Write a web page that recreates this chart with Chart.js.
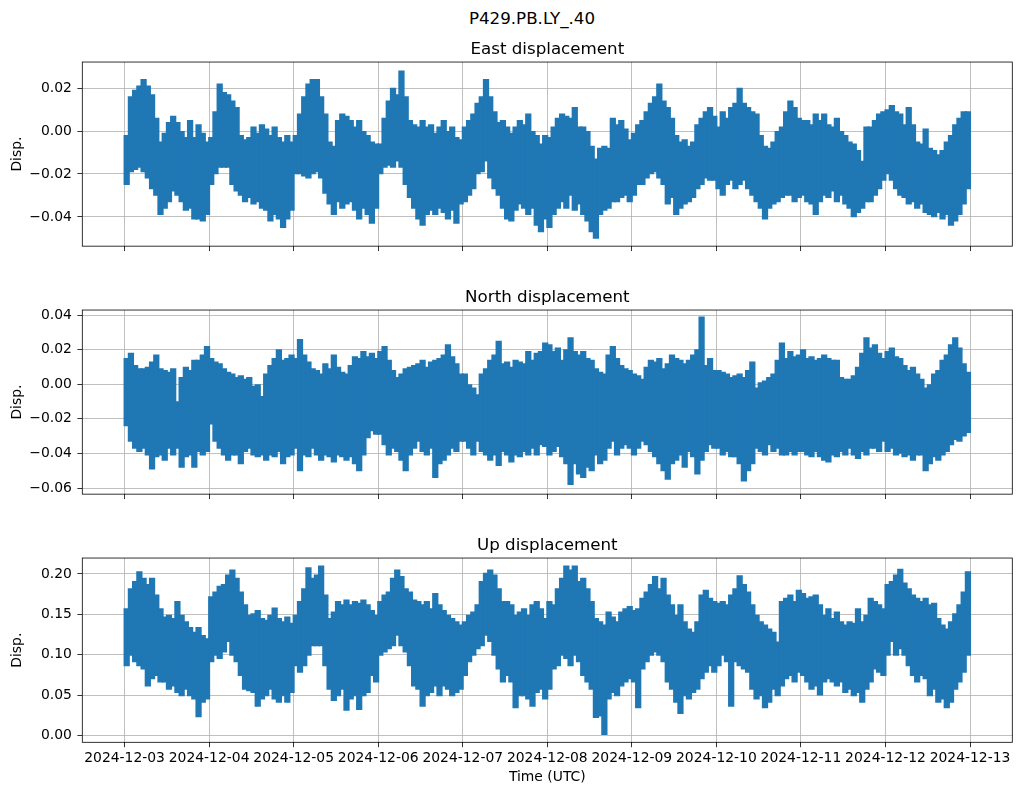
<!DOCTYPE html>
<html>
<head>
<meta charset="utf-8">
<script src="https://cdn.jsdelivr.net/npm/chart.js@4.4.1/dist/chart.umd.min.js"></script>
<style>
  body { margin: 0; background: #fff; }
  #fig { position: relative; width: 1021px; height: 795px; font-family: 'DejaVu Sans', sans-serif; }
  #sup { position: absolute; top: 8px; left: 432px; width: 200px; text-align: center; font-size: 16.7px; line-height: 20px; color: #000; }
  canvas { position: absolute; left: 0; }
</style>
</head>
<body>
<div id="fig">
  <div id="sup">P429.PB.LY_.40</div>
  <canvas id="east" width="1021" height="230" style="top:30px"></canvas>
  <canvas id="north" width="1021" height="230" style="top:278px"></canvas>
  <canvas id="up" width="1021" height="269" style="top:526px"></canvas>
</div>
<script>
// tick labels (days from 2024-12-03)
const dayLabels = ['2024-12-03', '2024-12-04', '2024-12-05', '2024-12-06', '2024-12-07', '2024-12-08',
                   '2024-12-09', '2024-12-10', '2024-12-11', '2024-12-12', '2024-12-13'];
const binDays = 0.05; // each envelope bin covers 1.2 h

// envelope (max / min) of the displacement per bin
const eastHi = [
  -0.002,0.016,0.019,0.021,0.024,0.021,0.017,0.006,-0.005,-0.001,0.004,0.007,0.004,0.000,-0.003,0.005,-0.003,0.003,-0.001,-0.005,
  -0.003,0.009,0.022,0.018,0.017,0.014,0.011,-0.002,-0.004,-0.003,0.002,-0.001,0.003,0.001,-0.002,0.002,-0.003,-0.005,-0.002,-0.005,
  -0.002,0.008,0.016,0.022,0.024,0.024,0.016,0.008,-0.005,-0.007,0.005,0.008,0.007,0.005,0.002,0.005,0.000,-0.002,-0.005,-0.006,
  -0.006,0.006,0.014,0.020,0.017,0.028,0.016,0.005,0.003,0.002,0.005,0.002,0.003,-0.001,0.002,0.005,0.000,0.002,-0.003,-0.004,
  0.002,0.005,0.008,0.013,0.016,0.024,0.016,0.009,0.004,0.005,0.002,-0.001,0.002,0.005,0.003,0.008,0.000,-0.002,-0.006,-0.002,
  -0.003,0.002,0.006,0.008,0.007,0.006,0.011,0.002,0.002,0.000,-0.007,-0.013,-0.008,-0.007,-0.008,0.006,0.003,0.005,0.001,-0.004,
  -0.001,0.003,0.005,0.009,0.013,0.016,0.022,0.014,0.011,0.006,-0.002,-0.005,-0.004,-0.007,-0.005,0.003,0.006,0.009,0.011,0.007,
  0.002,0.009,0.006,0.011,0.013,0.020,0.013,0.011,0.009,0.008,-0.002,-0.007,-0.008,-0.005,0.000,0.002,0.009,0.014,0.011,0.006,
  0.005,0.005,0.003,0.008,0.005,0.008,0.003,0.002,0.006,0.000,-0.002,-0.005,-0.006,-0.009,-0.014,0.002,0.002,0.005,0.008,0.009,
  0.010,0.012,0.009,0.008,0.003,0.011,0.003,-0.005,-0.006,0.001,-0.008,-0.009,-0.011,-0.009,-0.005,-0.002,0.003,0.006,0.009,0.009
];
const eastLo = [
  -0.025,-0.019,-0.018,-0.017,-0.019,-0.022,-0.027,-0.030,-0.039,-0.036,-0.033,-0.028,-0.030,-0.033,-0.037,-0.036,-0.041,-0.041,-0.042,-0.039,
  -0.025,-0.020,-0.017,-0.017,-0.017,-0.025,-0.028,-0.030,-0.033,-0.031,-0.034,-0.033,-0.036,-0.037,-0.042,-0.039,-0.041,-0.045,-0.041,-0.037,
  -0.020,-0.020,-0.021,-0.022,-0.020,-0.019,-0.022,-0.029,-0.034,-0.039,-0.033,-0.036,-0.034,-0.033,-0.037,-0.041,-0.036,-0.039,-0.043,-0.036,
  -0.020,-0.017,-0.016,-0.017,-0.014,-0.017,-0.025,-0.031,-0.036,-0.041,-0.044,-0.039,-0.037,-0.039,-0.036,-0.038,-0.041,-0.037,-0.043,-0.034,
  -0.033,-0.030,-0.027,-0.020,-0.019,-0.014,-0.022,-0.027,-0.030,-0.036,-0.041,-0.042,-0.037,-0.034,-0.036,-0.039,-0.036,-0.044,-0.047,-0.041,
  -0.045,-0.039,-0.036,-0.033,-0.036,-0.030,-0.037,-0.034,-0.039,-0.042,-0.047,-0.050,-0.039,-0.037,-0.036,-0.033,-0.033,-0.031,-0.030,-0.033,
  -0.030,-0.025,-0.025,-0.022,-0.020,-0.019,-0.022,-0.025,-0.034,-0.031,-0.039,-0.036,-0.034,-0.033,-0.031,-0.027,-0.025,-0.022,-0.023,-0.023,
  -0.027,-0.030,-0.025,-0.023,-0.027,-0.025,-0.023,-0.027,-0.030,-0.033,-0.036,-0.041,-0.036,-0.034,-0.033,-0.031,-0.030,-0.030,-0.033,-0.031,
  -0.030,-0.033,-0.034,-0.039,-0.033,-0.030,-0.031,-0.028,-0.033,-0.030,-0.034,-0.036,-0.040,-0.038,-0.036,-0.033,-0.033,-0.030,-0.027,-0.023,
  -0.020,-0.023,-0.027,-0.030,-0.031,-0.034,-0.033,-0.036,-0.034,-0.038,-0.039,-0.040,-0.038,-0.041,-0.039,-0.044,-0.042,-0.039,-0.034,-0.027
];
const northHi = [
  0.015,0.018,0.011,0.009,0.009,0.010,0.013,0.017,0.009,0.008,0.007,0.009,-0.010,0.004,0.010,0.008,0.014,0.014,0.017,0.022,
  0.015,0.013,0.012,0.009,0.007,0.006,0.004,0.005,0.003,0.004,-0.001,0.000,-0.007,0.006,0.011,0.015,0.020,0.014,0.015,0.017,
  0.015,0.026,0.017,0.013,0.009,0.008,0.006,0.012,0.009,0.017,0.010,0.007,0.006,0.011,0.016,0.015,0.019,0.016,0.018,0.015,
  0.019,0.022,0.014,0.008,0.004,0.006,0.009,0.010,0.011,0.012,0.014,0.010,0.013,0.014,0.015,0.017,0.023,0.016,0.012,0.006,
  0.006,0.000,-0.002,-0.006,0.006,0.009,0.014,0.017,0.025,0.012,0.013,0.010,0.014,0.013,0.012,0.019,0.014,0.018,0.019,0.024,
  0.023,0.019,0.021,0.014,0.020,0.027,0.019,0.017,0.019,0.015,0.014,0.009,0.007,0.006,0.017,0.022,0.015,0.011,0.009,0.008,
  0.006,0.005,0.003,0.010,0.014,0.013,0.015,0.009,0.012,0.017,0.015,0.014,0.012,0.014,0.017,0.020,0.039,0.011,0.015,0.008,
  0.008,0.007,0.006,0.004,0.005,0.006,0.004,0.008,0.013,-0.002,0.001,0.002,0.004,0.006,0.014,0.024,0.015,0.019,0.016,0.017,
  0.020,0.015,0.016,0.014,0.015,0.017,0.015,0.014,0.014,0.004,0.003,0.003,0.005,0.010,0.018,0.027,0.021,0.023,0.018,0.015,
  0.019,0.021,0.016,0.015,0.011,0.008,0.010,0.006,0.003,-0.002,0.000,0.006,0.008,0.014,0.017,0.023,0.027,0.021,0.012,0.007
];
const northLo = [
  -0.024,-0.033,-0.037,-0.039,-0.037,-0.041,-0.049,-0.042,-0.041,-0.044,-0.037,-0.041,-0.037,-0.048,-0.042,-0.041,-0.048,-0.039,-0.041,-0.039,
  -0.023,-0.033,-0.037,-0.041,-0.044,-0.041,-0.041,-0.046,-0.039,-0.037,-0.041,-0.042,-0.041,-0.044,-0.041,-0.042,-0.039,-0.046,-0.042,-0.041,
  -0.037,-0.050,-0.041,-0.042,-0.037,-0.041,-0.044,-0.041,-0.042,-0.045,-0.041,-0.042,-0.044,-0.042,-0.046,-0.050,-0.041,-0.031,-0.027,-0.029,
  -0.029,-0.035,-0.041,-0.037,-0.039,-0.044,-0.050,-0.041,-0.037,-0.033,-0.039,-0.041,-0.037,-0.054,-0.046,-0.044,-0.041,-0.037,-0.039,-0.033,
  -0.033,-0.037,-0.041,-0.033,-0.039,-0.041,-0.044,-0.041,-0.047,-0.039,-0.041,-0.045,-0.041,-0.042,-0.039,-0.041,-0.037,-0.041,-0.035,-0.036,
  -0.041,-0.039,-0.036,-0.042,-0.046,-0.058,-0.046,-0.052,-0.054,-0.048,-0.050,-0.041,-0.046,-0.044,-0.037,-0.033,-0.041,-0.037,-0.035,-0.037,
  -0.041,-0.037,-0.033,-0.035,-0.039,-0.042,-0.046,-0.050,-0.055,-0.046,-0.044,-0.041,-0.048,-0.039,-0.042,-0.052,-0.044,-0.039,-0.035,-0.037,
  -0.037,-0.041,-0.039,-0.042,-0.042,-0.046,-0.056,-0.050,-0.046,-0.037,-0.039,-0.041,-0.035,-0.039,-0.037,-0.041,-0.041,-0.039,-0.041,-0.039,
  -0.039,-0.041,-0.042,-0.039,-0.042,-0.044,-0.045,-0.041,-0.042,-0.039,-0.041,-0.037,-0.041,-0.043,-0.039,-0.041,-0.037,-0.037,-0.039,-0.033,
  -0.039,-0.037,-0.041,-0.040,-0.042,-0.041,-0.044,-0.041,-0.041,-0.050,-0.046,-0.042,-0.044,-0.041,-0.039,-0.035,-0.032,-0.033,-0.030,-0.028
];
const upHi = [
  0.157,0.182,0.191,0.203,0.195,0.187,0.195,0.174,0.157,0.147,0.149,0.145,0.166,0.149,0.141,0.134,0.128,0.134,0.124,0.120,
  0.172,0.178,0.185,0.187,0.199,0.205,0.195,0.178,0.162,0.149,0.151,0.155,0.145,0.143,0.149,0.158,0.145,0.141,0.147,0.139,
  0.149,0.166,0.182,0.208,0.195,0.199,0.210,0.174,0.145,0.153,0.166,0.162,0.168,0.162,0.166,0.164,0.168,0.162,0.155,0.149,
  0.166,0.174,0.178,0.195,0.205,0.197,0.182,0.178,0.168,0.166,0.162,0.166,0.157,0.176,0.162,0.155,0.149,0.145,0.141,0.137,
  0.141,0.149,0.153,0.162,0.191,0.201,0.205,0.199,0.182,0.166,0.166,0.162,0.149,0.153,0.157,0.149,0.162,0.166,0.157,0.145,
  0.166,0.162,0.182,0.195,0.210,0.205,0.210,0.191,0.195,0.182,0.166,0.145,0.141,0.137,0.153,0.147,0.141,0.153,0.157,0.160,
  0.155,0.157,0.170,0.178,0.187,0.197,0.182,0.195,0.174,0.162,0.149,0.162,0.141,0.132,0.128,0.141,0.174,0.180,0.170,0.166,
  0.164,0.166,0.162,0.174,0.182,0.198,0.187,0.178,0.162,0.149,0.141,0.137,0.132,0.128,0.116,0.166,0.170,0.174,0.166,0.180,
  0.176,0.170,0.172,0.174,0.162,0.149,0.157,0.145,0.153,0.141,0.137,0.141,0.139,0.157,0.141,0.149,0.170,0.166,0.162,0.157,
  0.187,0.191,0.199,0.206,0.189,0.182,0.174,0.170,0.166,0.170,0.162,0.164,0.145,0.137,0.132,0.141,0.151,0.162,0.178,0.203
];
const upLo = [
  0.086,0.099,0.091,0.086,0.082,0.061,0.070,0.074,0.066,0.066,0.057,0.061,0.053,0.049,0.057,0.049,0.045,0.023,0.041,0.045,
  0.091,0.099,0.095,0.103,0.116,0.099,0.091,0.074,0.057,0.055,0.053,0.036,0.045,0.049,0.057,0.045,0.041,0.049,0.041,0.053,
  0.086,0.078,0.086,0.099,0.111,0.111,0.111,0.086,0.057,0.043,0.049,0.057,0.031,0.045,0.049,0.032,0.049,0.053,0.074,0.066,
  0.099,0.103,0.107,0.111,0.124,0.111,0.103,0.086,0.061,0.057,0.036,0.049,0.053,0.061,0.049,0.061,0.057,0.049,0.053,0.057,
  0.074,0.091,0.099,0.107,0.111,0.124,0.116,0.099,0.082,0.066,0.074,0.066,0.034,0.049,0.049,0.045,0.036,0.053,0.057,0.045,
  0.057,0.082,0.086,0.099,0.095,0.086,0.099,0.091,0.074,0.066,0.057,0.022,0.024,0.001,0.045,0.053,0.049,0.061,0.066,0.070,
  0.066,0.034,0.082,0.091,0.099,0.103,0.099,0.091,0.066,0.057,0.041,0.027,0.049,0.045,0.053,0.057,0.070,0.078,0.086,0.078,
  0.086,0.099,0.091,0.036,0.091,0.086,0.082,0.078,0.057,0.045,0.049,0.034,0.041,0.057,0.049,0.061,0.070,0.074,0.066,0.078,
  0.074,0.066,0.057,0.061,0.050,0.066,0.070,0.066,0.061,0.066,0.053,0.057,0.049,0.053,0.041,0.057,0.066,0.082,0.078,0.074,
  0.099,0.116,0.099,0.107,0.099,0.086,0.074,0.066,0.074,0.070,0.049,0.057,0.041,0.045,0.034,0.041,0.057,0.066,0.078,0.099
];

const eastTicks = [-0.04, -0.02, 0.00, 0.02];
const northTicks = [-0.06, -0.04, -0.02, 0.00, 0.02, 0.04];
const upTicks = [0.00, 0.05, 0.10, 0.15, 0.20];

Chart.defaults.font.family = "'DejaVu Sans', sans-serif";
Chart.defaults.font.size = 13.9;
Chart.defaults.color = '#000';

const fmt = v => (v < 0 ? '\u2212' : '') + Math.abs(v).toFixed(2);

// matplotlib-like box around the axes
const frame = {
  id: 'frame',
  afterDatasetsDraw(chart) {
    const { ctx, chartArea: a } = chart;
    ctx.save();
    ctx.strokeStyle = '#000';
    ctx.lineWidth = 0.8;
    ctx.strokeRect(a.left, a.top, a.right - a.left, a.bottom - a.top);
    ctx.restore();
  }
};

const grid = { color: '#b0b0b0', lineWidth: 0.8, tickColor: '#000', tickLength: 4.9, offset: false };

function makePanel(id, title, hi, lo, yTicks, yMin, yMax, xHeight, showDates) {
  new Chart(document.getElementById(id), {
    type: 'bar',
    data: {
      datasets: [{
        data: hi.map((h, i) => ({ x: (i + 0.5) * binDays, y: [lo[i], h] })),
        backgroundColor: '#1f77b4',
        borderColor: '#1f77b4',
        borderWidth: 0,
        barThickness: 5.6,
        grouped: false
      }]
    },
    options: {
      responsive: false,
      animation: false,
      events: [],
      layout: { padding: { left: 0, right: 8.7, top: 0, bottom: 0 } },
      plugins: {
        legend: { display: false },
        tooltip: { enabled: false },
        title: {
          display: true, text: title, fullSize: false, color: '#000',
          font: { size: 16.7, weight: 'normal' }, padding: { top: 10, bottom: 2 }
        }
      },
      scales: {
        x: {
          type: 'linear', min: -0.5, max: 10.5, offset: false,
          grid: grid,
          border: { display: false },
          afterBuildTicks: s => { s.ticks = dayLabels.map((_, i) => ({ value: i })); },
          ticks: {
            autoSkip: false, maxRotation: 0, minRotation: 0, padding: 3,
            callback: v => showDates ? dayLabels[Math.round(v)] : ''
          },
          title: { display: showDates, text: 'Time (UTC)', padding: { top: 0, bottom: 9.6 } },
          afterFit: s => { s.height = xHeight; }
        },
        y: {
          min: yMin, max: yMax, beginAtZero: false,
          grid: grid,
          border: { display: false },
          afterBuildTicks: s => { s.ticks = yTicks.map(v => ({ value: v })); },
          ticks: { padding: 5.5, callback: v => fmt(v) },
          title: { display: true, text: 'Disp.', padding: { top: 9, bottom: 0 } },
          afterFit: s => { s.width = 82.3; }
        }
      }
    },
    plugins: [frame]
  });
}

makePanel('east', 'East displacement', eastHi, eastLo, eastTicks, -0.0536, 0.0321, 13.7, false);
makePanel('north', 'North displacement', northHi, northLo, northTicks, -0.0635, 0.0429, 13.3, false);
makePanel('up', 'Up displacement', upHi, upLo, upTicks, -0.0085, 0.2197, 52.7, true);
</script>
</body>
</html>
